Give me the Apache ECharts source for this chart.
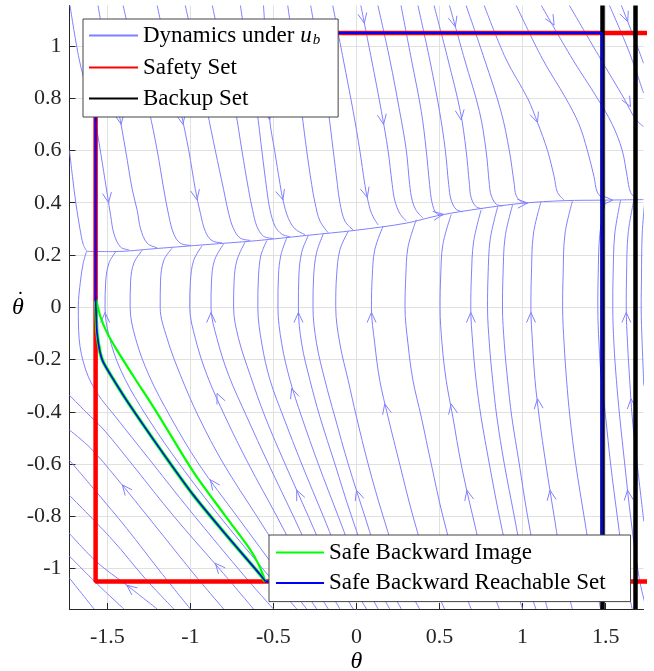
<!DOCTYPE html>
<html>
<head>
<meta charset="utf-8">
<script src="https://cdn.jsdelivr.net/npm/echarts@6/dist/echarts.min.js"></script>
<style>
  html, body { margin: 0; padding: 0; background: #fff; }
  #chart { width: 654px; height: 671px; }
</style>
</head>
<body>
<div id="chart"></div>
<script>
// ---- ticks ----
const xTicks = [-1.5, -1, -0.5, 0, 0.5, 1, 1.5];
const yTicks = [-1, -0.8, -0.6, -0.4, -0.2, 0, 0.2, 0.4, 0.6, 0.8, 1];

// ---- streamlines (theta, thetaDot) ----
// the attracting curve everything flows onto
const manifold = [[-1.625,0.214],[-1.47,0.213],[-1.2,0.225],[-0.9,0.24],[-0.6,0.255],[-0.3,0.275],[0,0.295],[0.3,0.322],[0.5,0.352],[0.75,0.378],[1.0,0.398],[1.25,0.408],[1.5,0.41],[1.728,0.412]];

// lines coming down from the top edge
const upperLines = [
  [[-1.728,0.6],[-1.71,0.5],[-1.69,0.4],[-1.665,0.3],[-1.645,0.24],[-1.625,0.216]],
  [[-1.725,1.155],[-1.67,0.95],[-1.61,0.8],[-1.57,0.7],[-1.53,0.55],[-1.5,0.43],[-1.48,0.35],[-1.46,0.28],[-1.42,0.23],[-1.37,0.22]],
  [[-1.556,1.155],[-1.5,0.95],[-1.434,0.755],[-1.39,0.6],[-1.35,0.45],[-1.32,0.37],[-1.3,0.3],[-1.26,0.245],[-1.2,0.228]],
  [[-1.405,1.155],[-1.33,0.95],[-1.25,0.755],[-1.2,0.6],[-1.16,0.45],[-1.13,0.35],[-1.1,0.28],[-1.06,0.245],[-1.0,0.237]],
  [[-1.2,1.155],[-1.13,0.95],[-1.06,0.755],[-1.01,0.6],[-0.97,0.45],[-0.94,0.36],[-0.91,0.29],[-0.87,0.255],[-0.81,0.247]],
  [[-1.031,1.155],[-0.96,0.95],[-0.9,0.755],[-0.85,0.6],[-0.8,0.45],[-0.77,0.36],[-0.74,0.3],[-0.7,0.265],[-0.64,0.256]],
  [[-0.868,1.155],[-0.8,0.95],[-0.73,0.755],[-0.69,0.6],[-0.65,0.45],[-0.625,0.37],[-0.6,0.31],[-0.56,0.272],[-0.5,0.263]],
  [[-0.699,1.155],[-0.65,0.95],[-0.6,0.755],[-0.57,0.6],[-0.54,0.45],[-0.52,0.37],[-0.49,0.31],[-0.45,0.28],[-0.4,0.27]],
  [[-0.56,1.155],[-0.54,0.95],[-0.523,0.72],[-0.493,0.6],[-0.46,0.47],[-0.443,0.411],[-0.41,0.34],[-0.37,0.3],[-0.31,0.278]],
  [[-0.414,1.155],[-0.37,0.95],[-0.33,0.75],[-0.3,0.6],[-0.27,0.47],[-0.25,0.4],[-0.22,0.33],[-0.17,0.285]],
  [[-0.276,1.155],[-0.22,0.95],[-0.17,0.75],[-0.14,0.6],[-0.115,0.47],[-0.1,0.4],[-0.07,0.33],[-0.02,0.296]],
  [[-0.143,1.155],[-0.08,0.95],[-0.02,0.75],[0.02,0.6],[0.05,0.47],[0.065,0.42],[0.09,0.36],[0.13,0.315]],
  [[0.026,1.155],[0.09,0.95],[0.15,0.75],[0.19,0.6],[0.215,0.47],[0.23,0.41],[0.26,0.36],[0.3,0.33]],
  [[0.129,1.155],[0.2,0.95],[0.26,0.75],[0.3,0.6],[0.32,0.47],[0.335,0.41],[0.36,0.37],[0.4,0.342]],
  [[0.268,1.155],[0.33,0.95],[0.39,0.75],[0.42,0.6],[0.44,0.47],[0.455,0.4],[0.48,0.36],[0.52,0.352]],
  [[0.37,1.155],[0.44,0.95],[0.5,0.75],[0.535,0.6],[0.555,0.47],[0.57,0.41],[0.6,0.375],[0.64,0.365]],
  [[0.467,1.155],[0.55,0.95],[0.625,0.75],[0.66,0.6],[0.68,0.47],[0.69,0.42],[0.72,0.385],[0.76,0.377]],
  [[0.56,1.155],[0.65,0.95],[0.74,0.75],[0.78,0.6],[0.8,0.47],[0.81,0.43],[0.84,0.395],[0.88,0.388]],
  [[0.66,1.155],[0.77,0.95],[0.87,0.75],[0.92,0.6],[0.95,0.47],[0.96,0.43],[0.99,0.405],[1.03,0.398]],
  [[0.769,1.155],[0.9,0.95],[1.03,0.8],[1.09,0.707],[1.15,0.6],[1.19,0.5],[1.21,0.44],[1.25,0.41]],
  [[0.962,1.155],[1.12,0.95],[1.26,0.8],[1.34,0.7],[1.39,0.6],[1.43,0.5],[1.45,0.44],[1.49,0.412]],
  [[1.113,1.155],[1.3,0.95],[1.45,0.8],[1.54,0.7],[1.6,0.6],[1.63,0.5],[1.65,0.44],[1.69,0.412]],
  [[1.282,1.155],[1.47,0.95],[1.61,0.8],[1.68,0.72],[1.728,0.692]],
  [[1.523,1.155],[1.64,0.98],[1.728,0.82]],
  [[1.595,1.155],[1.633,1.093],[1.69,1.0],[1.728,0.934]]
];

// "(" shaped lines coming up from the bottom edge
const lowerLines = [
  [[-0.36,-1.155],[-0.5,-1.05],[-0.85,-0.78],[-1.1,-0.57],[-1.3,-0.38],[-1.42,-0.24],[-1.49,-0.11],[-1.514,0],[-1.51,0.1],[-1.49,0.17],[-1.45,0.212]],
  [[-0.3,-1.155],[-0.44,-1.04],[-0.72,-0.8],[-0.95,-0.6],[-1.12,-0.42],[-1.25,-0.26],[-1.33,-0.12],[-1.363,0],[-1.36,0.1],[-1.34,0.17],[-1.29,0.218]],
  [[-0.24,-1.155],[-0.37,-1.03],[-0.6,-0.8],[-0.8,-0.6],[-0.95,-0.42],[-1.06,-0.26],[-1.14,-0.12],[-1.182,0],[-1.18,0.1],[-1.16,0.18],[-1.11,0.226]],
  [[-0.17,-1.155],[-0.29,-1.03],[-0.48,-0.8],[-0.65,-0.6],[-0.79,-0.42],[-0.9,-0.26],[-0.97,-0.12],[-1.004,0],[-1.0,0.1],[-0.98,0.18],[-0.93,0.235]],
  [[-0.1,-1.155],[-0.21,-1.03],[-0.38,-0.8],[-0.53,-0.6],[-0.66,-0.42],[-0.77,-0.26],[-0.84,-0.12],[-0.876,0],[-0.873,0.1],[-0.855,0.18],[-0.8,0.242]],
  [[-0.02,-1.155],[-0.13,-1.03],[-0.29,-0.8],[-0.43,-0.6],[-0.55,-0.42],[-0.64,-0.26],[-0.71,-0.12],[-0.74,0],[-0.737,0.1],[-0.72,0.18],[-0.67,0.25]],
  [[0.06,-1.155],[-0.05,-1.03],[-0.2,-0.8],[-0.33,-0.6],[-0.44,-0.42],[-0.52,-0.28],[-0.57,-0.14],[-0.594,0],[-0.59,0.12],[-0.575,0.2],[-0.54,0.255]],
  [[0.13,-1.155],[0.03,-1.03],[-0.11,-0.8],[-0.23,-0.6],[-0.33,-0.42],[-0.4,-0.28],[-0.45,-0.14],[-0.473,0],[-0.47,0.12],[-0.455,0.2],[-0.42,0.265]],
  [[0.2,-1.155],[0.1,-1.03],[-0.03,-0.8],[-0.13,-0.6],[-0.22,-0.42],[-0.28,-0.28],[-0.33,-0.14],[-0.35,0],[-0.347,0.12],[-0.33,0.21],[-0.29,0.275]],
  [[0.27,-1.155],[0.17,-1.03],[0.05,-0.8],[-0.05,-0.6],[-0.13,-0.42],[-0.19,-0.28],[-0.24,-0.14],[-0.262,0],[-0.258,0.12],[-0.24,0.21],[-0.2,0.28]],
  [[0.38,-1.155],[0.28,-1.03],[0.16,-0.8],[0.07,-0.6],[0.0,-0.42],[-0.05,-0.28],[-0.1,-0.14],[-0.125,0],[-0.12,0.12],[-0.1,0.22],[-0.05,0.29]],
  [[0.53,-1.155],[0.45,-1.03],[0.34,-0.8],[0.26,-0.6],[0.19,-0.42],[0.14,-0.28],[0.11,-0.14],[0.09,0],[0.095,0.12],[0.11,0.22],[0.16,0.31]],
  [[0.69,-1.155],[0.62,-1.03],[0.52,-0.8],[0.45,-0.6],[0.39,-0.42],[0.34,-0.28],[0.31,-0.14],[0.292,0],[0.297,0.12],[0.31,0.23],[0.36,0.335]],
  [[0.86,-1.155],[0.79,-1.03],[0.7,-0.8],[0.63,-0.6],[0.58,-0.42],[0.54,-0.28],[0.515,-0.14],[0.503,0],[0.507,0.12],[0.52,0.24],[0.57,0.355]],
  [[1.0,-1.155],[0.94,-1.03],[0.86,-0.8],[0.8,-0.6],[0.75,-0.42],[0.72,-0.28],[0.7,-0.14],[0.688,0],[0.692,0.12],[0.705,0.25],[0.75,0.372]],
  [[1.08,-1.155],[1.02,-1.03],[0.95,-0.8],[0.89,-0.6],[0.845,-0.42],[0.82,-0.28],[0.8,-0.14],[0.789,0],[0.792,0.12],[0.805,0.26],[0.85,0.384]],
  [[1.15,-1.155],[1.1,-1.03],[1.03,-0.8],[0.98,-0.6],[0.935,-0.42],[0.91,-0.28],[0.89,-0.14],[0.879,0],[0.882,0.12],[0.895,0.27],[0.94,0.392]],
  [[1.3,-1.155],[1.25,-1.03],[1.19,-0.8],[1.14,-0.6],[1.1,-0.42],[1.075,-0.28],[1.06,-0.14],[1.05,0],[1.053,0.12],[1.065,0.28],[1.11,0.402]],
  [[1.47,-1.155],[1.43,-1.03],[1.37,-0.8],[1.32,-0.6],[1.285,-0.42],[1.265,-0.28],[1.25,-0.14],[1.241,0],[1.244,0.12],[1.255,0.28],[1.3,0.406]],
  [[1.66,-1.155],[1.62,-1.03],[1.57,-0.8],[1.53,-0.6],[1.5,-0.42],[1.475,-0.28],[1.46,-0.14],[1.453,0],[1.455,0.12],[1.465,0.28],[1.5,0.409]],
  [[1.745,-1.155],[1.7,-1.03],[1.65,-0.8],[1.615,-0.6],[1.585,-0.42],[1.565,-0.28],[1.55,-0.14],[1.543,0],[1.545,0.12],[1.555,0.28],[1.59,0.41]],
  [[1.73,-0.82],[1.69,-0.6],[1.66,-0.42],[1.645,-0.28],[1.632,-0.14],[1.624,0],[1.626,0.12],[1.635,0.28],[1.67,0.41]],
  [[1.73,-0.3],[1.72,-0.14],[1.714,0],[1.716,0.12],[1.72,0.28],[1.735,0.4]]
];

// diagonal lines in the lower left, leaving through the left edge
const leftLines = [
  [[-0.5,-1.155],[-0.66,-1.04],[-1.0,-0.78],[-1.25,-0.58],[-1.45,-0.42],[-1.56,-0.33],[-1.63,-0.24],[-1.67,-0.12],[-1.675,0],[-1.662,0.1],[-1.645,0.17],[-1.625,0.214]],
  [[-0.62,-1.155],[-0.8,-1.02],[-1.1,-0.8],[-1.34,-0.61],[-1.52,-0.47],[-1.63,-0.4],[-1.728,-0.337]],
  [[-0.8,-1.155],[-0.98,-1.02],[-1.22,-0.83],[-1.45,-0.65],[-1.6,-0.54],[-1.728,-0.47]],
  [[-1.0,-1.155],[-1.18,-1.013],[-1.383,-0.847],[-1.574,-0.701],[-1.728,-0.586]],
  [[-1.1,-1.155],[-1.27,-1.04],[-1.47,-0.89],[-1.728,-0.72]],
  [[-1.2,-1.155],[-1.383,-1.064],[-1.564,-0.975],[-1.728,-0.866]],
  [[-1.4,-1.155],[-1.56,-1.06],[-1.728,-0.953]],
  [[-1.58,-1.155],[-1.728,-1.037]]
];

// arrow heads: [theta, thetaDot, flow dTheta, flow dThetaDot]
const arrows = [
  [-1.417,0.7,0.28,-1], [-1.045,0.7,0.32,-1], [-1.493,0.4,0.25,-1], [-0.96,0.411,0.33,-1],
  [-0.523,0.717,0.25,-1], [-0.443,0.411,0.46,-1],
  [0.047,1.087,0.31,-1], [0.163,0.7,0.27,-1], [0.065,0.42,0.42,-1],
  [0.63,0.717,0.23,-1], [0.595,1.074,0.44,-1], [1.09,0.707,0.56,-1], [1.19,1.08,0.91,-1],
  [1.633,1.093,0.61,-1], [1.65,0.768,0.875,-1],
  [0.523,0.356,1,0.1], [1.03,0.399,1,0.04], [1.543,0.41,1,0.01],
  [-1.514,-0.02,-0.02,1], [-0.876,-0.02,-0.02,1], [-0.35,-0.02,-0.02,1], [0.09,-0.02,-0.02,1],
  [0.688,-0.02,-0.02,1], [1.05,-0.02,-0.02,1], [1.624,-0.02,-0.02,1],
  [-0.84,-0.33,-0.7,1], [-0.39,-0.31,-0.5,1], [0.17,-0.37,-0.36,1], [0.57,-0.37,-0.29,1],
  [1.09,-0.35,-0.18,1], [1.653,-0.35,-0.11,1],
  [-1.41,-0.68,-1.28,1], [-0.88,-0.66,-1.15,1], [-0.36,-0.7,-0.7,1], [0.0,-0.7,-0.5,1],
  [0.665,-0.7,-0.35,1], [1.165,-0.7,-0.25,1], [1.632,-0.7,-0.18,1],
  [-1.383,-1.064,-2,1], [-0.85,-0.98,-1.36,1]
];

// ---- sets ----
const safetySet = [[1.9,1.05],[-1.5708,1.05],[-1.5708,-1.05],[1.9,-1.05]];
const backupX = [1.477, 1.679];
const brsBox = [[-1.5708,0.025],[-1.5708,1.05],[1.477,1.05],[1.477,-1.05],[-0.548,-1.05]];
const brsCurve = [[-1.5708,0.025],[-1.566,-0.05],[-1.562,-0.1],[-1.545,-0.17],[-1.525,-0.21],[-1.463,-0.277],[-1.37,-0.37],[-1.18,-0.545],[-0.981,-0.72],[-0.78,-0.875],[-0.578,-1.025],[-0.548,-1.05]];
const sbiCurve = [[-1.568,0.032],[-1.54,-0.04],[-1.5,-0.1],[-1.444,-0.162],[-1.343,-0.264],[-1.2,-0.405],[-0.981,-0.631],[-0.8,-0.79],[-0.644,-0.924],[-0.585,-0.99],[-0.548,-1.05]];

const STREAM = 'Dynamics under u_b';
const COL = '#8080ff';
const FONT = '"Liberation Serif", "Times New Roman", serif';
const AX = '#262626';

const series = [];
[...upperLines, ...lowerLines, ...leftLines, manifold].forEach(pts => {
  series.push({
    type: 'line', name: STREAM, data: pts, smooth: 0.35, symbol: 'none', silent: true, z: 1,
    lineStyle: { color: COL, width: 1 }, itemStyle: { color: COL }
  });
});

series.push({
  type: 'custom', name: 'arrows', data: arrows, silent: true, z: 2,
  encode: { x: 0, y: 1 },
  renderItem: (params, api) => {
    const x = api.value(0), y = api.value(1);
    const p = api.coord([x, y]);
    const q = api.coord([x + api.value(2) * 0.01, y + api.value(3) * 0.01]);
    const a = Math.atan2(q[1] - p[1], q[0] - p[0]);
    const L = 11, w = 0.42;
    return {
      type: 'polyline',
      shape: { points: [
        [p[0] - L * Math.cos(a - w), p[1] - L * Math.sin(a - w)],
        p,
        [p[0] - L * Math.cos(a + w), p[1] - L * Math.sin(a + w)]
      ] },
      style: { stroke: COL, lineWidth: 1, fill: null }
    };
  }
});

series.push({
  type: 'line', name: 'Safety Set', data: safetySet, symbol: 'none', silent: true, z: 3,
  lineStyle: { color: '#ff0000', width: 4.5 }, itemStyle: { color: '#ff0000' }
});
series.push({
  type: 'line', name: 'Backup Set', data: [], symbol: 'none', silent: true, z: 4,
  lineStyle: { color: '#000', width: 4.5 }, itemStyle: { color: '#000' },
  markLine: {
    silent: true, symbol: 'none', label: { show: false }, animation: false,
    lineStyle: { color: '#000', width: 4.5, type: 'solid' },
    data: backupX.map(v => ({ xAxis: v }))
  }
});
series.push({
  type: 'line', name: 'Safe Backward Image', data: sbiCurve, smooth: 0.3, symbol: 'none', silent: true, z: 5,
  lineStyle: { color: '#00ff00', width: 2.2 }, itemStyle: { color: '#00ff00' }
});
series.push({
  type: 'line', name: 'Safe Backward Image', data: brsCurve, smooth: 0.3, symbol: 'none', silent: true, z: 5,
  lineStyle: { color: '#00ff00', width: 3.4 }, itemStyle: { color: '#00ff00' }
});
series.push({
  type: 'line', name: 'Safe Backward Reachable Set', data: brsBox, symbol: 'none', silent: true, z: 6,
  lineStyle: { color: '#0000ff', width: 2.2 }, itemStyle: { color: '#0000ff' }
});
series.push({
  type: 'line', name: 'Safe Backward Reachable Set', data: brsCurve, smooth: 0.3, symbol: 'none', silent: true, z: 6,
  lineStyle: { color: '#0000ff', width: 1.6 }, itemStyle: { color: '#0000ff' }
});

const legendText = {
  fontFamily: FONT, fontSize: 23, color: '#000', lineHeight: 20,
  rich: {
    n: { fontFamily: FONT, fontSize: 23, color: '#000' },
    i: { fontFamily: FONT, fontSize: 23, fontStyle: 'italic', color: '#000' },
    s: { fontFamily: FONT, fontSize: 15, fontStyle: 'italic', color: '#000', padding: [10, 0, 0, 1] }
  }
};
const legendBase = {
  orient: 'vertical', itemWidth: 49, itemHeight: 14, selectedMode: false, z: 20,
  borderColor: '#444', borderWidth: 1, backgroundColor: '#fff',
  itemStyle: { opacity: 0 },
  textStyle: legendText
};

const chart = echarts.init(document.getElementById('chart'), null, { renderer: 'canvas' });
chart.setOption({
  animation: false,
  grid: { left: 69.5, right: 10.5, top: 5.5, bottom: 62, outerBoundsMode: 'none', containLabel: false },
  legend: [
    Object.assign({}, legendBase, {
      left: 83, top: 19, itemGap: 8, padding: [5, 18, 7, 5],
      data: [STREAM, 'Safety Set', 'Backup Set'],
      formatter: name => name === STREAM ? '{n|Dynamics under }{i|u}{s|b}' : name
    }),
    Object.assign({}, legendBase, {
      left: 269, top: 535, itemGap: 7.6, padding: [6, 25, 7, 6], itemWidth: 48,
      data: ['Safe Backward Image', 'Safe Backward Reachable Set']
    })
  ],
  xAxis: {
    type: 'value', min: -1.728, max: 1.728,
    name: '\u03b8', nameLocation: 'middle', nameGap: 41, nameMoveOverlap: false,
    nameTextStyle: { fontFamily: FONT, fontStyle: 'italic', fontSize: 24, color: '#000' },
    axisLine: { onZero: false, lineStyle: { color: AX, width: 1 } },
    axisTick: { inside: true, length: 6, customValues: xTicks, lineStyle: { color: AX } },
    axisLabel: { customValues: xTicks, fontFamily: FONT, fontSize: 22, color: AX, margin: 17 },
    splitLine: { show: true, lineStyle: { color: '#e0e0e0', width: 1 } }
  },
  yAxis: {
    type: 'value', min: -1.155, max: 1.155,
    name: '{d|\u02d9}\n{t|\u03b8}', nameLocation: 'middle', nameRotate: 0, nameGap: 42, nameMoveOverlap: false,
    nameTextStyle: {
      color: '#000',
      rich: {
        d: { fontFamily: FONT, fontSize: 22, lineHeight: 1, width: 14, align: 'center', padding: [0, 0, 0, 5], color: '#000' },
        t: { fontFamily: FONT, fontSize: 24, fontStyle: 'italic', lineHeight: 14, width: 14, align: 'center', color: '#000' }
      }
    },
    axisLine: { onZero: false, lineStyle: { color: AX, width: 1 } },
    axisTick: { inside: true, length: 6, customValues: yTicks, lineStyle: { color: AX } },
    axisLabel: { customValues: yTicks, fontFamily: FONT, fontSize: 22, color: AX, margin: 8 },
    splitLine: { show: true, lineStyle: { color: '#e0e0e0', width: 1 } }
  },
  series: series
});
</script>
</body>
</html>
